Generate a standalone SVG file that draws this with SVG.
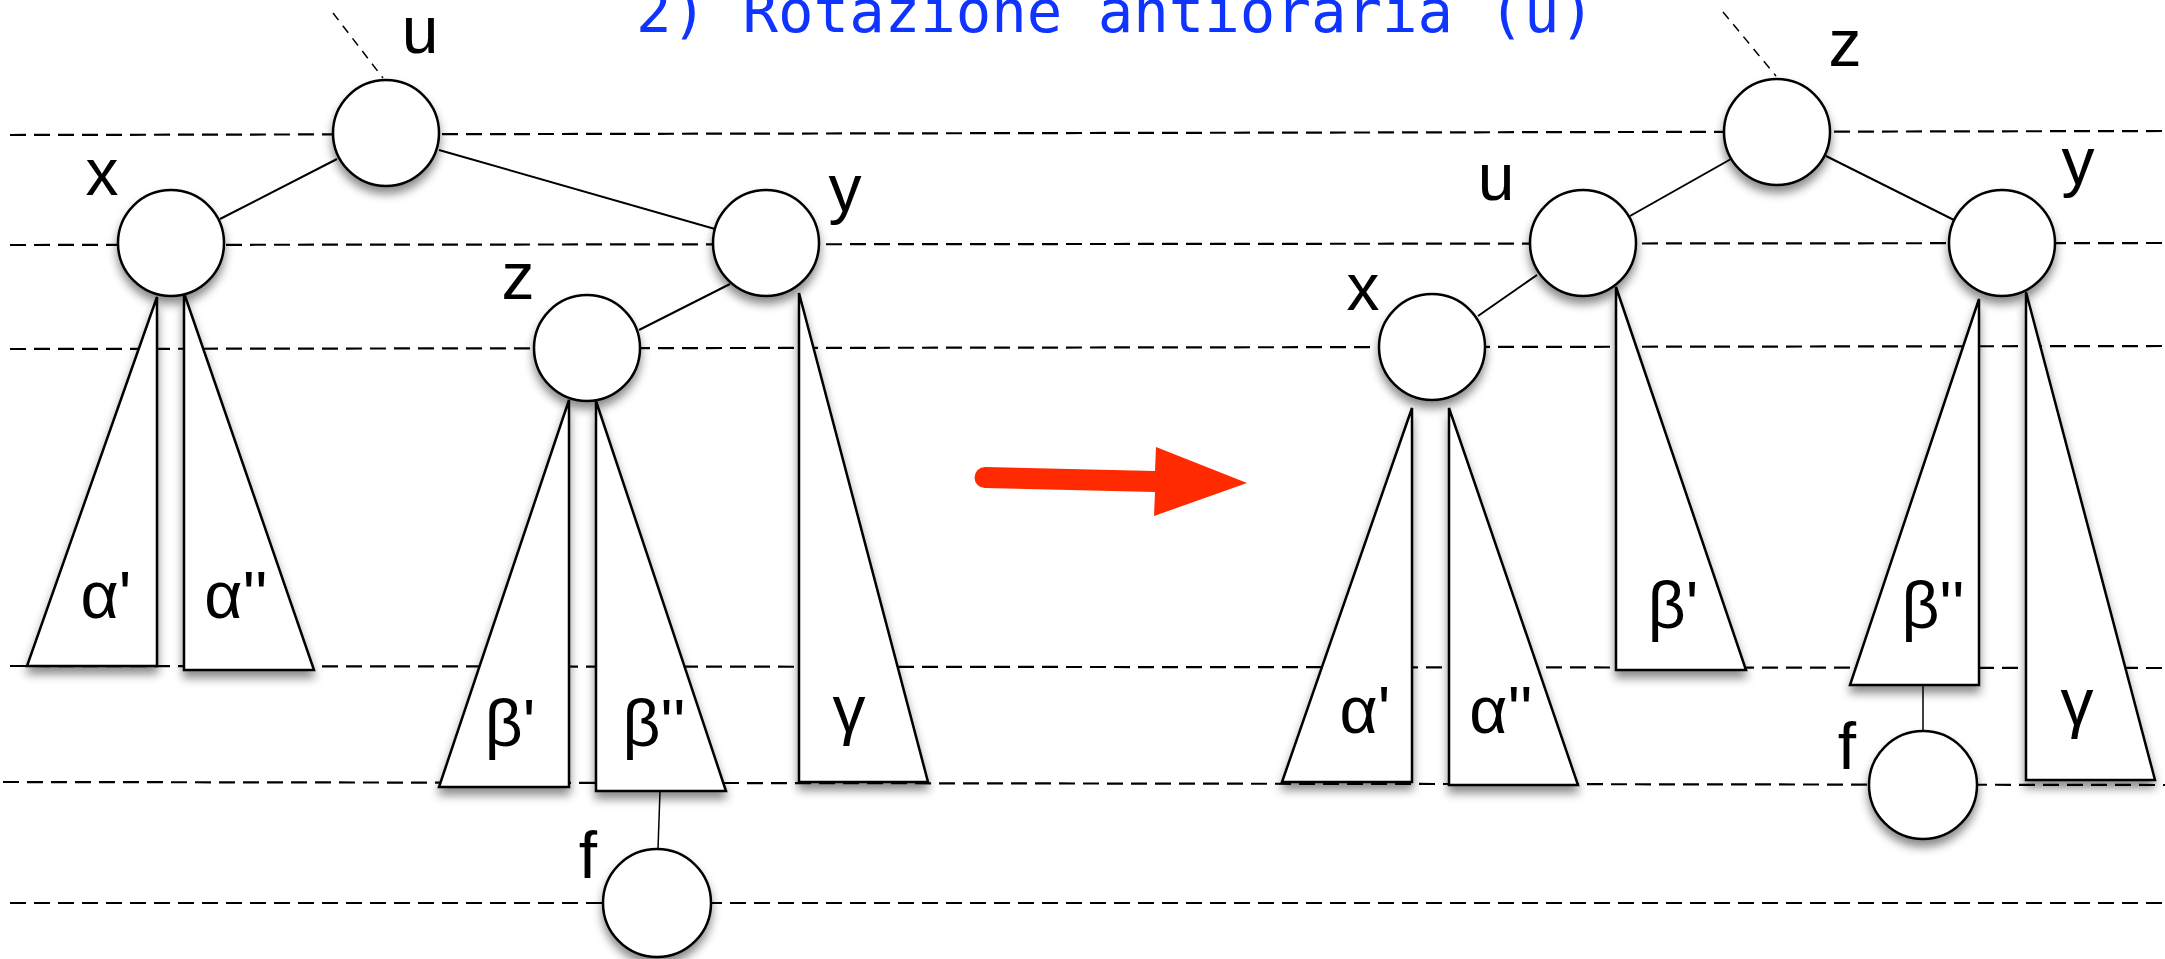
<svg xmlns="http://www.w3.org/2000/svg" width="2165" height="959" viewBox="0 0 2165 959">
  <defs>
    <filter id="sh" x="-30%" y="-30%" width="160%" height="170%">
      <feDropShadow dx="0" dy="7" stdDeviation="5" flood-color="#000" flood-opacity="0.45"/>
    </filter>
    <style>
      .guide{stroke:#000;stroke-width:2.2;stroke-dasharray:16 8;fill:none}
      .edge{stroke:#000;stroke-width:2;fill:none}
      .thin{stroke:#000;stroke-width:1.5;fill:none}
      .dash{stroke:#000;stroke-width:1.5;stroke-dasharray:9 7;fill:none}
      .node{fill:#fff;stroke:#000;stroke-width:2.5;filter:url(#sh)}
      .tri{fill:#fff;stroke:#000;stroke-width:2.5;stroke-linejoin:miter;filter:url(#sh)}
      .lbl{font-family:"Liberation Sans","DejaVu Sans",sans-serif;font-size:66px;fill:#000;text-anchor:middle}
      .title{font-family:"DejaVu Sans Mono","Liberation Mono",monospace;font-size:59px;fill:#1034ff}
    </style>
  </defs>
  <rect width="2165" height="959" fill="#fff"/>

  <g id="guides">
    <line class="guide" x1="10" y1="135" x2="2165" y2="131"/>
    <line class="guide" x1="10" y1="245" x2="2165" y2="243"/>
    <line class="guide" x1="10" y1="349" x2="2165" y2="346"/>
    <line class="guide" x1="10" y1="666" x2="2165" y2="668"/>
    <line class="guide" x1="3" y1="782" x2="2165" y2="785"/>
    <line class="guide" x1="10" y1="903" x2="2165" y2="903"/>
  </g>

  <text class="title" x="636" y="32">2) Rotazione antioraria (u)</text>

  <g id="connectors">
    <line class="dash" x1="333" y1="13" x2="383" y2="78"/>
    <line class="edge" x1="337" y1="159" x2="220" y2="219"/>
    <line class="edge" x1="439" y1="150" x2="715" y2="229"/>
    <line class="edge" x1="730" y1="284" x2="639" y2="330"/>
    <line class="thin" x1="660" y1="791" x2="658" y2="849"/>
    <line class="dash" x1="1723" y1="12" x2="1776" y2="76"/>
    <line class="edge" x1="1731" y1="159" x2="1630" y2="216"/>
    <line class="edge" x1="1826" y1="156" x2="1954" y2="220"/>
    <line class="edge" x1="1537" y1="275" x2="1478" y2="316"/>
    <line class="thin" x1="1923" y1="685" x2="1923" y2="731"/>
  </g>

  <!-- left tree subtrees -->
  <g id="L-alpha1"><polygon class="tri" points="157,297 157,666 27,666"/><text class="lbl" x="106" y="618">α'</text></g>
  <g id="L-alpha2"><polygon class="tri" points="184,293 184,670 314,670"/><text class="lbl" x="236" y="618">α''</text></g>
  <g id="L-beta1"><polygon class="tri" points="569,400 569,787 439,787"/><text class="lbl" x="510" y="746">β'</text></g>
  <g id="L-beta2"><polygon class="tri" points="596,401 596,791 726,791"/><text class="lbl" x="654" y="746">β''</text></g>
  <g id="L-gamma"><polygon class="tri" points="799,293 799,782 928,782"/><text class="lbl" x="849" y="732">γ</text></g>

  <!-- right tree subtrees -->
  <g id="R-alpha1"><polygon class="tri" points="1412,408 1412,782 1282,782"/><text class="lbl" x="1365" y="733">α'</text></g>
  <g id="R-alpha2"><polygon class="tri" points="1449,408 1449,785 1578,785"/><text class="lbl" x="1501" y="733">α''</text></g>
  <g id="R-beta1"><polygon class="tri" points="1616,287 1616,670 1746,670"/><text class="lbl" x="1673" y="628">β'</text></g>
  <g id="R-beta2"><polygon class="tri" points="1979,299 1979,685 1850,685"/><text class="lbl" x="1933" y="628">β''</text></g>
  <g id="R-gamma"><polygon class="tri" points="2026,292 2026,780 2155,780"/><text class="lbl" x="2077" y="725">γ</text></g>

  <!-- left tree nodes -->
  <g id="L-u"><circle class="node" cx="386" cy="133" r="53"/><text class="lbl" x="420" y="53">u</text></g>
  <g id="L-x"><circle class="node" cx="171" cy="243" r="53"/><text class="lbl" x="102" y="195">x</text></g>
  <g id="L-y"><circle class="node" cx="766" cy="243" r="53"/><text class="lbl" x="845" y="211">y</text></g>
  <g id="L-z"><circle class="node" cx="587" cy="348" r="53"/><text class="lbl" x="518" y="299">z</text></g>
  <g id="L-f"><circle class="node" cx="657" cy="903" r="54"/><text class="lbl" x="588" y="878">f</text></g>

  <!-- right tree nodes -->
  <g id="R-z"><circle class="node" cx="1777" cy="132" r="53"/><text class="lbl" x="1845" y="66">z</text></g>
  <g id="R-u"><circle class="node" cx="1583" cy="243" r="53"/><text class="lbl" x="1496" y="200">u</text></g>
  <g id="R-y"><circle class="node" cx="2002" cy="243" r="53"/><text class="lbl" x="2078" y="184">y</text></g>
  <g id="R-x"><circle class="node" cx="1432" cy="347" r="53"/><text class="lbl" x="1363" y="310">x</text></g>
  <g id="R-f"><circle class="node" cx="1923" cy="785" r="54"/><text class="lbl" x="1847" y="769">f</text></g>

  <g id="arrow">
    <path d="M985,467 L1155,471 L1156,447 L1247,483 L1154,516 L1155,492 L985,488 A10.5,10.5 0 0 1 985,467 Z" fill="#ff2a00"/>
  </g>
</svg>
